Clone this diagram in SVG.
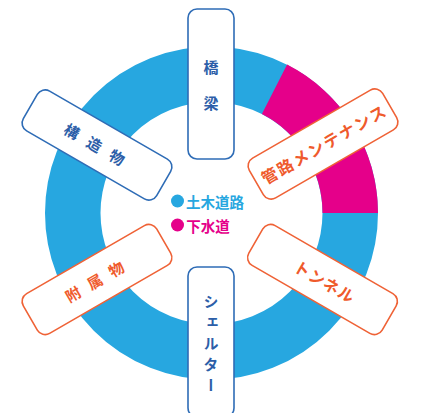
<svg xmlns="http://www.w3.org/2000/svg" width="433" height="413" viewBox="0 0 433 413">
<style>
text{font-family:"Noto Sans CJK JP","Noto Sans",sans-serif;font-weight:700;dominant-baseline:central;text-anchor:middle}
.bb{fill:#fff;stroke:#2e6cb6;stroke-width:1.6}
.ob{fill:#fff;stroke:#ef6236;stroke-width:1.6}
.bt{fill:#2c5ea8;font-size:15px}
.ot{fill:#ef5a2c;font-size:16px}
.vt{writing-mode:vertical-rl}
.lg{font-weight:700;font-size:14.5px}
</style>
<g id="ring">
<circle cx="211.5" cy="213" r="138.75" fill="none" stroke="#27a7e0" stroke-width="55.5"/>
<path d="M287.1,64.6 A166.5,166.5 0 0 1 378,213 L322.5,213 A111,111 0 0 0 261.9,114.1 Z" fill="#e5008a"/>
</g>
<g id="legend">
<circle cx="177.5" cy="201" r="6.5" fill="#27a7e0"/>
<text class="lg" x="215" y="201" style="fill:#27a7e0">土木道路</text>
<circle cx="177.5" cy="225" r="6.5" fill="#e5008a"/>
<text class="lg" x="208" y="225" style="fill:#e5008a">下水道</text>
</g>
<g id="node-kyoryo">
<rect class="bb" x="188" y="9" width="46" height="150" rx="9"/>
<text class="bt vt" x="211" y="96" style="letter-spacing:21px">橋梁</text>
</g>
<g id="node-shelter">
<rect class="bb" x="188" y="267" width="46" height="150" rx="9"/>
<text class="bt vt" x="211" y="346" style="letter-spacing:6px">シェルター</text>
</g>
<g id="node-kozobutsu" transform="translate(97,145) rotate(30)">
<rect class="bb" x="-77" y="-23" width="154" height="46" rx="9"/>
<text class="bt" x="3" y="0" style="letter-spacing:11px">構造物</text>
</g>
<g id="node-kanro" transform="translate(323,144) rotate(-30)">
<rect class="ob" x="-77" y="-23" width="154" height="46" rx="9"/>
<text class="ot" x="1" y="0" style="letter-spacing:1.8px">管路メンテナンス</text>
</g>
<g id="node-tunnel" transform="translate(322.5,279.5) rotate(30)">
<rect class="ob" x="-77" y="-23" width="154" height="46" rx="9"/>
<text class="ot" x="3" y="0" style="letter-spacing:1px">トンネル</text>
</g>
<g id="node-fuzokubutsu" transform="translate(97,279.5) rotate(-30)">
<rect class="ob" x="-77" y="-23" width="154" height="46" rx="9"/>
<text class="ot" x="2" y="0" style="font-size:15px;letter-spacing:10px">附属物</text>
</g>
<g id="connectors"></g>
</svg>
